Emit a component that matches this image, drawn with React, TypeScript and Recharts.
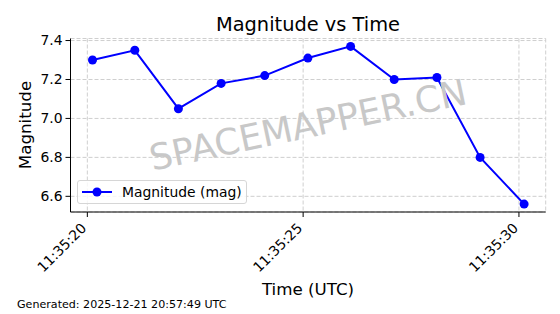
import React from 'react';
import {
    LineChart,
    Line,
    XAxis,
    YAxis,
    CartesianGrid
} from 'recharts';

// seconds after 11:35:20 UTC
const timeOffsets = [0.12, 1.10, 2.11, 3.10, 4.11, 5.11, 6.10, 7.11, 8.10, 9.10, 10.12];
const magnitudes = [7.30, 7.35, 7.05, 7.18, 7.22, 7.31, 7.37, 7.20, 7.21, 6.80, 6.56];
const xTicks = [0, 5, 10];
const yTicks = [6.6, 6.8, 7.0, 7.2, 7.4];

const FONT = '"DejaVu Sans", sans-serif';
const BLUE = '#0000ff';

const data = timeOffsets.map((t, i) => ({ t, mag: magnitudes[i] }));

const fmtTime = (s: number) => `11:35:${String(20 + Math.round(s)).padStart(2, '0')}`;

const RotatedTick = (props: any) => {
    const { x, y, payload } = props;
    return (
        <text
            x={x}
            y={y + 10}
            transform={`rotate(-45, ${x}, ${y + 10})`}
            textAnchor="end"
            fontSize={13.9}
            fontFamily={FONT}
            fill="#000"
        >
            {fmtTime(payload.value)}
        </text>
    );
};

const LegendBox = () => (
    <div
        style={{
            position: 'absolute',
            left: 77,
            top: 180,
            border: '1px solid #d6d6d6',
            borderRadius: 3,
            background: 'rgba(255,255,255,0.8)',
            width: 168,
            height: 22,
            display: 'flex',
            alignItems: 'center',
            fontFamily: FONT,
            fontSize: 13.9,
            color: '#000'
        }}
    >
        <svg width={40} height={22} style={{ marginLeft: 4 }}>
            <line x1={0} y1={11} x2={30} y2={11} stroke={BLUE} strokeWidth={2} />
            <circle cx={15} cy={11} r={4.5} fill={BLUE} />
        </svg>
        <span>Magnitude (mag)</span>
    </div>
);

export default function App() {
    return (
        <div style={{ position: 'absolute', left: 0, top: 0, width: 560, height: 314, background: '#fff', fontFamily: FONT }}>
            <LineChart
                width={560}
                height={314}
                data={data}
                margin={{ top: 38.5, right: 14.3, left: 0.5, bottom: 0 }}
            >
                <CartesianGrid stroke="#cfcfcf" strokeDasharray="4 2" />
                <XAxis
                    dataKey="t"
                    type="number"
                    domain={[-0.39, 10.62]}
                    ticks={xTicks}
                    allowDataOverflow
                    height={102}
                    tickSize={5}
                    tick={<RotatedTick />}
                    stroke="#000"
                    tickLine={{ stroke: '#000' }}
                />
                <XAxis xAxisId="top" orientation="top" dataKey="t" type="number" domain={[-0.39, 10.62]} height={0} tick={false} tickLine={false} stroke="#000" />
                <YAxis
                    type="number"
                    domain={[6.5195, 7.4105]}
                    ticks={yTicks}
                    allowDataOverflow
                    width={70}
                    tickSize={5}
                    tickMargin={3}
                    tickFormatter={(v: number) => v.toFixed(1)}
                    tick={{ fill: '#000', fontSize: 13.9, fontFamily: FONT }}
                    stroke="#000"
                    tickLine={{ stroke: '#000' }}
                />
                <YAxis yAxisId="right" orientation="right" domain={[0, 1]} width={0} tick={false} tickLine={false} stroke="#000" />
                <Line
                    dataKey="mag"
                    type="linear"
                    stroke={BLUE}
                    strokeWidth={2}
                    dot={{ r: 4.5, fill: BLUE, stroke: BLUE, strokeWidth: 0 }}
                    activeDot={false}
                    isAnimationActive={false}
                />
            </LineChart>

            <LegendBox />

            <div style={{ position: 'absolute', left: 0, width: 616, top: 13, textAlign: 'center', fontSize: 19.4, lineHeight: '24px', color: '#000' }}>
                Magnitude vs Time
            </div>
            <div
                style={{
                    position: 'absolute',
                    left: 25,
                    top: 125,
                    transform: 'translate(-50%, -50%) rotate(-90deg)',
                    fontSize: 16.7,
                    whiteSpace: 'nowrap',
                    color: '#000'
                }}
            >
                Magnitude
            </div>
            <div style={{ position: 'absolute', left: 0, width: 616, top: 278, textAlign: 'center', fontSize: 16.7, lineHeight: '22px', color: '#000' }}>
                Time (UTC)
            </div>
            <div style={{ position: 'absolute', left: 17, top: 298, fontSize: 11.1, lineHeight: '14px', color: '#000' }}>
                Generated: 2025-12-21 20:57:49 UTC
            </div>
            <div
                style={{
                    position: 'absolute',
                    left: 308,
                    top: 125,
                    transform: 'translate(-50%, -50%) rotate(-12deg)',
                    fontSize: 36,
                    whiteSpace: 'nowrap',
                    color: '#c8c8c8',
                    pointerEvents: 'none'
                }}
            >
                SPACEMAPPER.CN
            </div>
        </div>
    );
}
